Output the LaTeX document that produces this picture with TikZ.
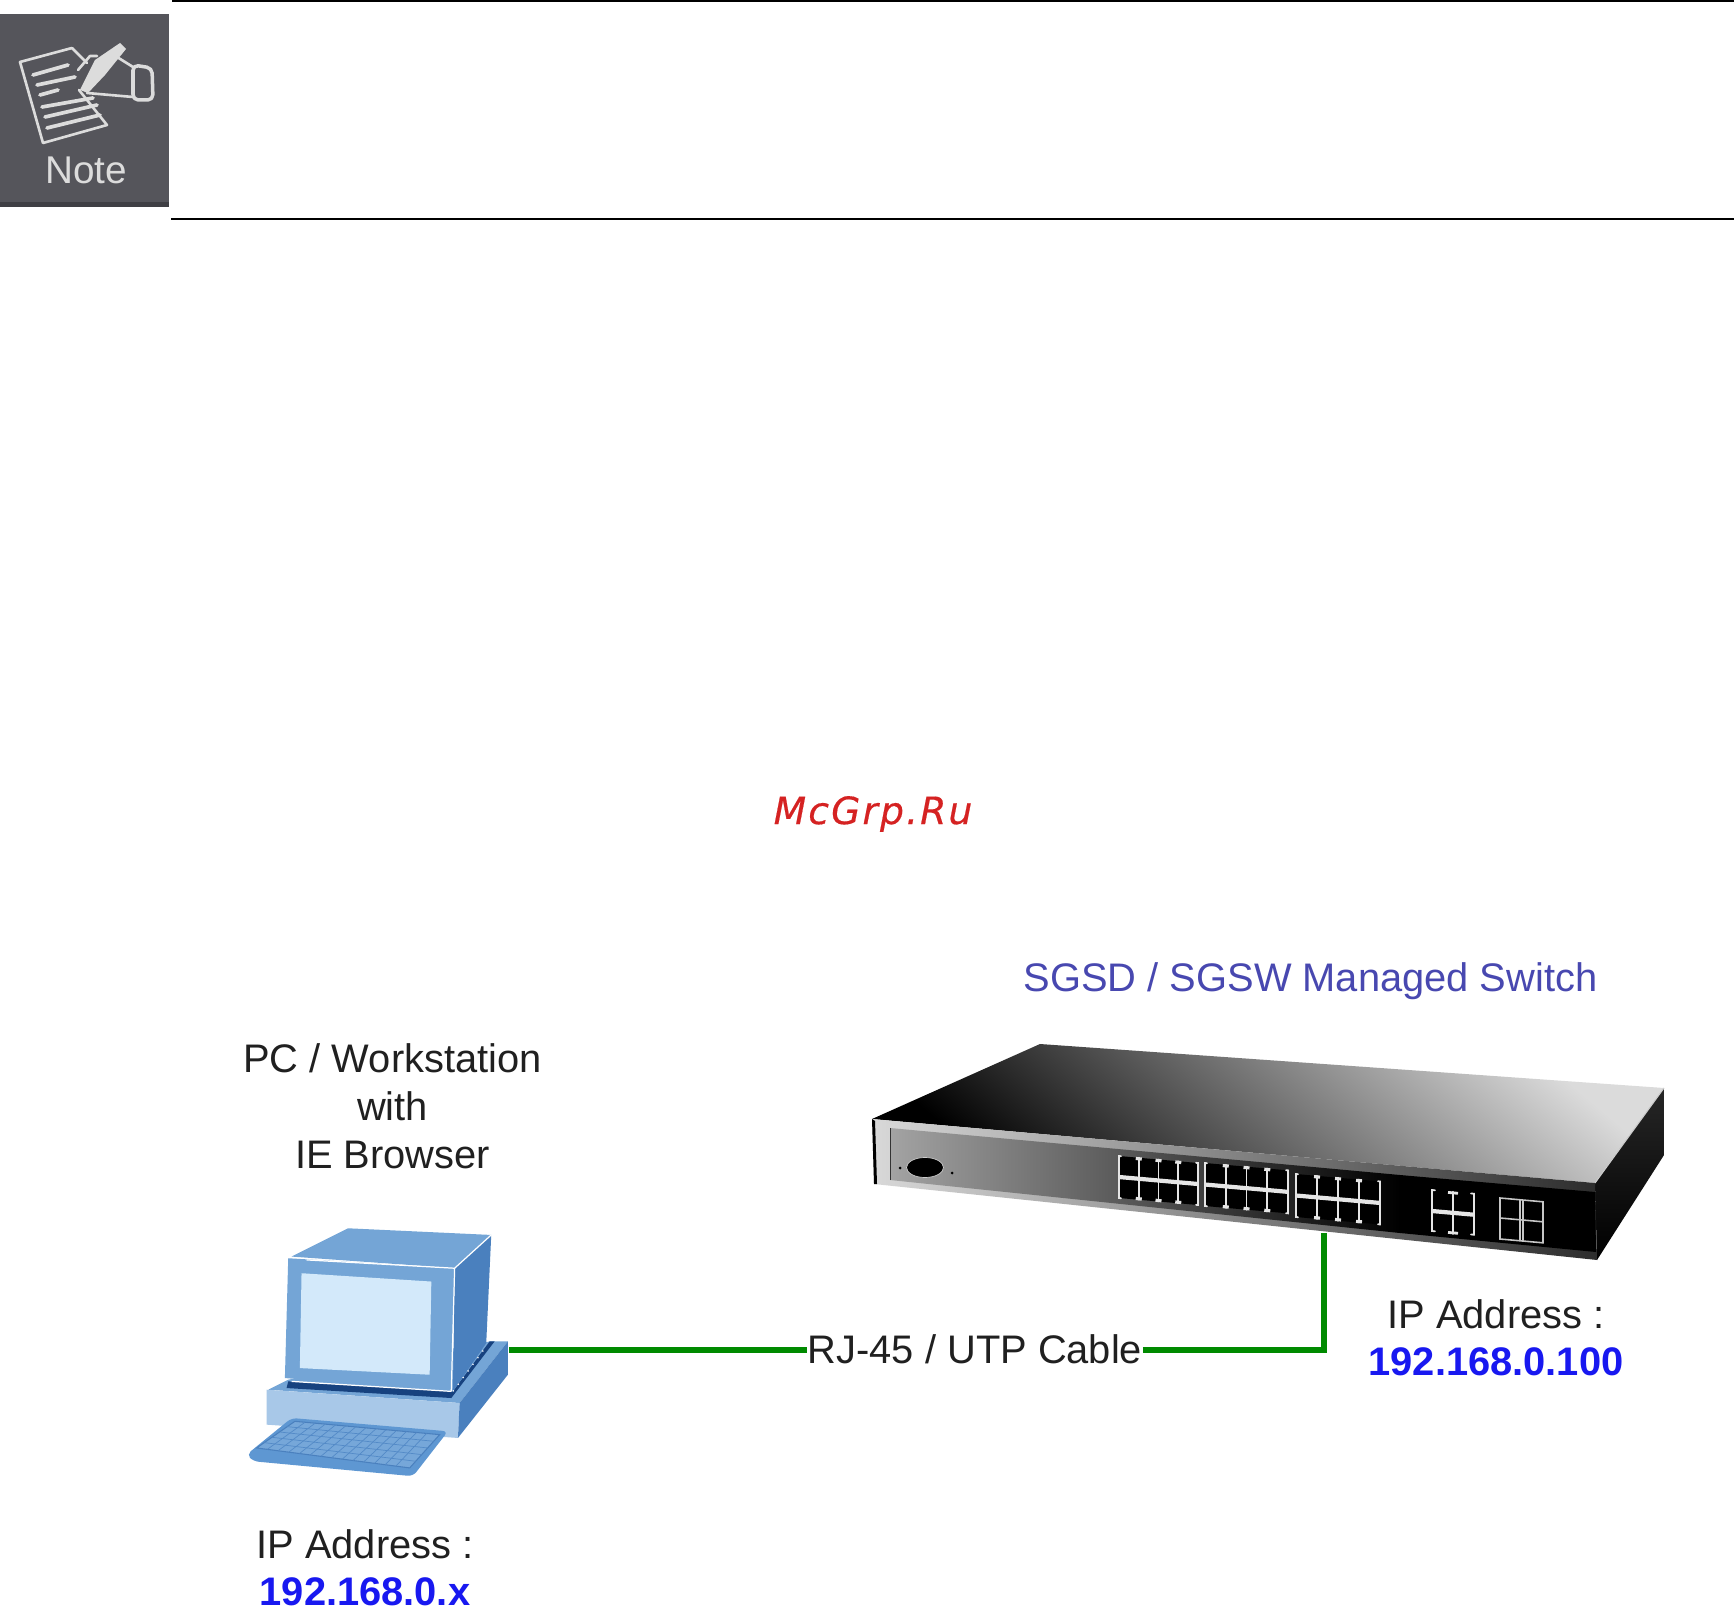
\documentclass[tikz,border=0pt]{standalone}
\usepackage{fontspec}
\usetikzlibrary{shapes.geometric,calc}
\setmainfont{Liberation Sans}
\newfontfamily\wmfont[ItalicFont={DejaVu Sans Oblique},LetterSpace=5.7,FakeBold=0.4]{DejaVu Sans}
\definecolor{noteback}{HTML}{55555B}
\definecolor{notedark}{HTML}{3F3F44}
\definecolor{noteline}{HTML}{DCDCDC}
\definecolor{pcface}{HTML}{74A5D6}
\definecolor{pcside}{HTML}{4A80BE}
\definecolor{pcscreen}{HTML}{D3E9FA}
\definecolor{pcbase}{HTML}{A8C8E8}
\definecolor{pcdark}{HTML}{17427F}
\definecolor{pckey}{HTML}{5E97D2}
\definecolor{cablegreen}{HTML}{008A00}
\definecolor{titleblue}{HTML}{4848B0}
\definecolor{ipblue}{HTML}{1818F0}
\definecolor{wmred}{HTML}{D52222}
\definecolor{txt}{HTML}{202020}
\tikzset{
  label text/.style={font=\fontsize{11.33}{13.66}\selectfont,text=txt,inner sep=0pt,align=center},
  ip text/.style={font=\fontsize{11.33}{13.66}\selectfont\bfseries,text=ipblue,inner sep=0pt},
  cable/.style={draw=cablegreen,line width=1.7pt,line join=miter},
  rule line/.style={draw=black,line width=0.55pt},
  noteink/.style={draw=noteline,line width=0.75pt,line join=round,line cap=round},
  pcseam/.style={draw=white,line width=0.35pt},
  portink/.style={draw=white!90!black,line width=0.5pt,line cap=round},
  portbar/.style={draw=white!90!black,line width=1.2pt},
}
% #1,#2 top-left corner, #3 width, #4 height
\newcommand{\portblock}[4]{%
  \begin{scope}[shift={(#1,#2)},yslant=-0.0886]
    \fill[black,rounded corners=0.6pt] (0,0) rectangle (#3,#4);
    \draw[portbar] (0,#4/2) -- (#3,#4/2);
    \foreach \c in {1,2,3}{
      \draw[portink] ({\c*#3/4},0) -- ({\c*#3/4},#4);
      \draw[portbar,line width=0.9pt] ({\c*#3/4-3},1) -- ({\c*#3/4+3},1);
      \draw[portbar,line width=0.9pt] ({\c*#3/4-3},#4-1) -- ({\c*#3/4+3},#4-1);
    }
    \draw[portink] (2,0) -- (0,0) -- (0,#4) -- (2,#4);
    \draw[portink] (#3-2,0) -- (#3,0) -- (#3,#4) -- (#3-2,#4);
  \end{scope}}
\begin{document}
\begin{tikzpicture}[x=0.01cm,y=-0.01cm]
\useasboundingbox (0,0) rectangle (1734,1619);
\fill[white] (0,0) rectangle (1734,1619);

% Note block
\fill[noteback] (0,14) rectangle (169,207);
\fill[notedark] (0,202) rectangle (169,207);
\draw[rule line] (172,1) -- (1734,1);
\draw[rule line] (171,219) -- (1734,219);
% paper
\draw[noteink] (72,48) -- (20,62) -- (43,143) -- (107,125) -- (79,90);
\draw[noteink] (72,48) -- (87,63);
\foreach \xa/\ya/\xb/\yb in {33/75/68/65,37/85/75/77,40/95/58/90,42/107/93/98,45/117/97/105,47/128/100/115}{
  \draw[noteink,line width=1.05pt] (\xa,\ya) -- (\xb,\yb);
}
% pen and hand
\fill[noteline] (80,90) -- (95,60) -- (120,43) -- (126,49) -- (105,75) -- (88,93) -- cycle;
\draw[noteink] (78,70) -- (90,56) -- (97,56);
\draw[noteink] (112,57) -- (117,57) -- (133,67);
\draw[noteink] (87,93) -- (133,97);
\draw[noteink,line width=1pt,rounded corners=1.5pt] (133,65) -- (152,68) -- (153,100) -- (133,100) -- cycle;
\node[inner sep=0pt,text=noteline,font=\fontsize{11}{13}\selectfont] (notetext) at (86,170) {Note};

% Watermark
\node[inner sep=0pt,text=wmred,font=\wmfont\itshape\fontsize{10.7}{12}\selectfont] (watermark) at (873,814) {McGrp.Ru};

% Switch
\coordinate (swA) at (1040,1044);
\coordinate (swB) at (1664,1088);
\coordinate (swC) at (1595,1183);
\coordinate (swD) at (872,1119);
\coordinate (swE) at (874,1184);
\coordinate (swF) at (1597,1260);
\coordinate (swG) at (1664,1155);
\shade[left color=black,middle color=gray!70!black,right color=gray!28,shading angle=140]
  (swA) -- (swB) -- (swC) -- (swD) -- cycle;
\shade[left color=black!85,right color=black,shading angle=0] (swC) -- (swB) -- (swG) -- (swF) -- cycle;
\draw[gray!40,line width=0.3pt] (swB) -- (swC);
% front face: rim
\shade[left color=gray!30,middle color=gray!60!black,right color=gray!35!black]
  (swD) -- (swC) -- (swF) -- (swE) -- cycle;
% inner panel
\shade[left color=gray!72,middle color=gray!95!black,right color=black]
  (890,1128) -- (1400,1175) -- (1400,1233) -- (890,1180) -- cycle;
\fill[black] (1400,1175) -- (1595,1192) -- (1596,1252) -- (1400,1233) -- cycle;
\draw[gray!40!black,line width=0.25pt] (890,1128) -- (890,1180);
\fill[black] (872,1119) -- (875,1121) -- (877,1184) -- (874,1184) -- cycle;
% console
\node[ellipse,minimum width=0.37cm,minimum height=0.2cm,inner sep=0pt,fill=black,draw=white!80!black,line width=0.2pt] (console) at (925,1167.5) {};
\fill[black] (900,1168) circle (1.5);
\fill[black] (952,1173) circle (1.5);
% ports
\portblock{1119}{1156}{79}{42}
\portblock{1205}{1163}{83}{43}
\portblock{1296}{1174}{84}{43}
\begin{scope}[shift={(1432,1190)},yslant=-0.0886]
  \draw[portbar] (0,21) -- (42,21);
  \draw[portink] (21,0) -- (21,42);
  \draw[portbar,line width=0.8pt] (16,1) -- (26,1);
  \draw[portbar,line width=0.8pt] (16,41) -- (26,41);
  \draw[portink] (3,0) -- (0,0) -- (0,41) -- (3,41);
  \draw[portink] (39,0) -- (42,0) -- (42,41) -- (39,41);
\end{scope}
\begin{scope}[shift={(1500,1198)},yslant=-0.0886]
  \draw[gray!45,line width=0.45pt] (0,0) rectangle (43,41);
  \draw[gray!45,line width=0.45pt] (0,20) -- (43,20);
  \draw[gray!45,line width=0.45pt] (20,0) -- (20,41);
  \draw[gray!45,line width=0.45pt] (23,0) -- (23,41);
\end{scope}
\coordinate (swport) at (1324,1233);

% PC
\begin{scope}[shift={(220,1200)},x=0.00333333cm,y=-0.00333333cm]
  % base
  \fill[pcface] (145,570) -- (205,540) -- (810,425) -- (865,425) -- (720,610) -- cycle;
  \fill[pcbase] (140,570) -- (720,610) -- (715,715) -- (140,675) -- cycle;
  \fill[pcside] (720,610) -- (865,425) -- (865,525) -- (715,715) -- cycle;
  \fill[pcdark] (205,545) -- (700,575) -- (810,425) -- (825,425) -- (695,595) -- (200,565) -- cycle;
  % monitor
  \fill[pcface] (215,170) -- (385,85) -- (815,105) -- (705,205) -- cycle;
  \fill[pcface] (205,175) -- (705,205) -- (695,575) -- (195,535) -- cycle;
  \fill[pcside] (705,205) -- (815,105) -- (800,430) -- (700,575) -- cycle;
  \fill[pcscreen] (245,220) -- (635,245) -- (630,525) -- (240,505) -- cycle;
  \draw[pcseam] (705,205) -- (815,105);
  \draw[pcseam] (705,205) -- (695,575);
  \draw[pcseam,dotted] (700,575) -- (800,440);
  \draw[pcseam] (260,180) -- (705,205);
  \draw[pcseam] (215,545) -- (695,575);
  % keyboard
  \fill[pckey,rounded corners=1.5pt] (80,765) -- (215,655) -- (685,695) -- (580,830) -- (100,785) -- cycle;
  \fill[pckey!85!white] (110,745) -- (225,665) -- (660,705) -- (570,805) -- cycle;
  \draw[pcside,line width=0.3pt] (110,745) -- (225,665) -- (660,705) -- (570,805) -- cycle;
  \foreach \t in {0.2,0.4,0.6,0.8}{
    \draw[pcside!55!pckey,line width=0.2pt] ($(110,745)!\t!(225,665)$) -- ($(570,805)!\t!(660,705)$);
  }
  \foreach \t in {0.07,0.14,...,0.95}{
    \draw[pcside!55!pckey,line width=0.2pt] ($(110,745)!\t!(570,805)$) -- ($(225,665)!\t!(660,705)$);
  }
\end{scope}
\coordinate (pcport) at (509,1350);

% Labels
\node[label text,text=titleblue] (swtitle) at (1310.5,981) {SGSD / SGSW Managed Switch};
\node[label text] (pctitle) at (392.5,1106) {PC / Workstation\\with\\IE Browser};
\node[label text] (swip) at (1496,1314) {IP Address :};
\node[ip text] (swaddr) at (1496,1362) {192.168.0.100};
\node[label text] (pcip) at (365,1544) {IP Address :};
\node[ip text] (pcaddr) at (365,1592) {192.168.0.x};

% Cable
\node[label text] (cablelabel) at (975,1349) {RJ-45 / UTP Cable};
\draw[cable] (pcport) -- (pcport -| cablelabel.west);
\draw[cable] (pcport -| cablelabel.east) -| (swport);
\end{tikzpicture}
\end{document}
